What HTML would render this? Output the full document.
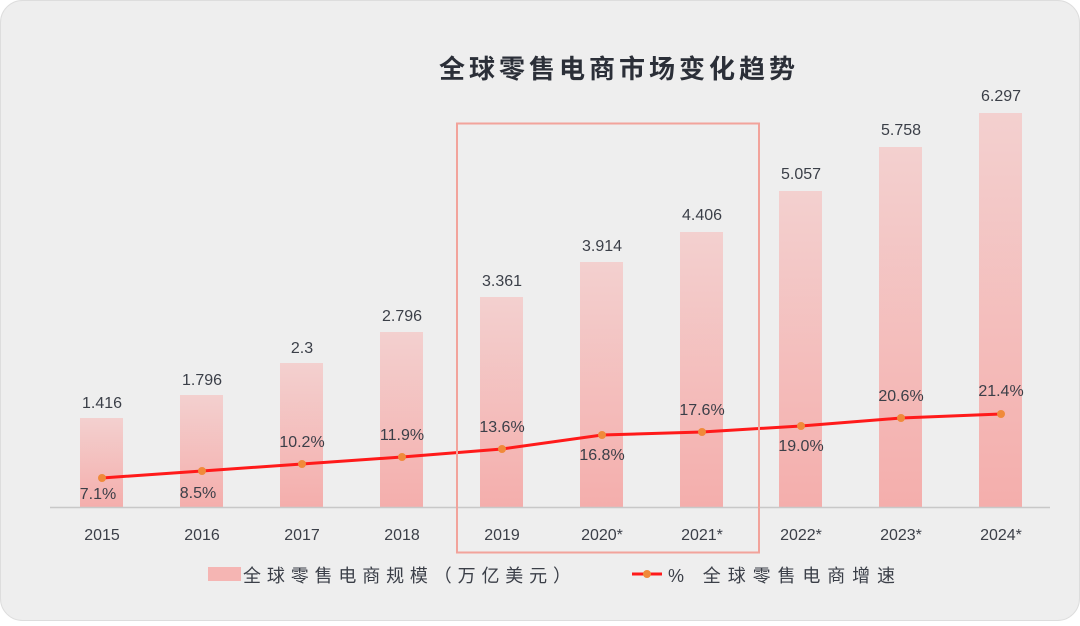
<!DOCTYPE html>
<html><head><meta charset="utf-8"><style>
body{margin:0;background:#fff;}
svg text{font-family:"Liberation Sans","Noto Sans CJK SC",sans-serif;}
</style></head><body>
<svg width="1080" height="621" xmlns="http://www.w3.org/2000/svg">
<defs>
<linearGradient id="g" x1="0" y1="0" x2="0" y2="1">
<stop offset="0" stop-color="#f3d0cf"/><stop offset="1" stop-color="#f4aeac"/>
</linearGradient>
</defs>
<rect x="0.5" y="0.5" width="1079" height="620" rx="22" fill="#eeeeee" stroke="#dddddd"/>
<text x="619" y="78" text-anchor="middle" font-size="26" font-weight="bold" fill="#2b2f38" letter-spacing="4" font-family="Noto Sans CJK SC,sans-serif">全球零售电商市场变化趋势</text>
<g fill="url(#g)">
<rect x="80" y="418" width="43" height="89"/>
<rect x="180" y="395" width="43" height="112"/>
<rect x="280" y="363" width="43" height="144"/>
<rect x="380" y="332" width="43" height="175"/>
<rect x="480" y="297" width="43" height="210"/>
<rect x="580" y="262" width="43" height="245"/>
<rect x="680" y="232" width="43" height="275"/>
<rect x="779" y="191" width="43" height="316"/>
<rect x="879" y="147" width="43" height="360"/>
<rect x="979" y="113" width="43" height="394"/>
</g>
<line x1="50" y1="507.5" x2="1050" y2="507.5" stroke="#c8c8c8" stroke-width="1.5"/>
<g font-size="16" fill="#3b3f48" text-anchor="middle">
<text x="102" y="408">1.416</text><text x="202" y="385">1.796</text><text x="302" y="353">2.3</text>
<text x="402" y="321">2.796</text><text x="502" y="286">3.361</text><text x="602" y="251">3.914</text>
<text x="702" y="220">4.406</text><text x="801" y="179">5.057</text><text x="901" y="135">5.758</text>
<text x="1001" y="101">6.297</text>
</g>
<polyline points="102,478 202,471 302,464 402,457 502,449 602,435 702,432 801,426 901,418 1001,414" fill="none" stroke="#ff1a1a" stroke-width="3"/>
<g fill="#f08a3a">
<circle cx="102" cy="478" r="4"/><circle cx="202" cy="471" r="4"/><circle cx="302" cy="464" r="4"/>
<circle cx="402" cy="457" r="4"/><circle cx="502" cy="449" r="4"/><circle cx="602" cy="435" r="4"/>
<circle cx="702" cy="432" r="4"/><circle cx="801" cy="426" r="4"/><circle cx="901" cy="418" r="4"/>
<circle cx="1001" cy="414" r="4"/>
</g>
<g font-size="16" fill="#3b3f48" text-anchor="middle">
<text x="98" y="499">7.1%</text><text x="198" y="498">8.5%</text><text x="302" y="447">10.2%</text>
<text x="402" y="440">11.9%</text><text x="502" y="432">13.6%</text><text x="602" y="460">16.8%</text>
<text x="702" y="415">17.6%</text><text x="801" y="451">19.0%</text><text x="901" y="401">20.6%</text>
<text x="1001" y="396">21.4%</text>
</g>
<g font-size="16" fill="#3b3f48" text-anchor="middle">
<text x="102" y="540">2015</text><text x="202" y="540">2016</text><text x="302" y="540">2017</text>
<text x="402" y="540">2018</text><text x="502" y="540">2019</text><text x="602" y="540">2020*</text>
<text x="702" y="540">2021*</text><text x="801" y="540">2022*</text><text x="901" y="540">2023*</text>
<text x="1001" y="540">2024*</text>
</g>
<rect x="457" y="123.5" width="302" height="429" fill="none" stroke="#f2a39b" stroke-width="2"/>
<rect x="208" y="567" width="33" height="14" fill="#f5b5b3"/>
<text x="243" y="582" font-size="18" fill="#3b3f48" letter-spacing="6" textLength="334" lengthAdjust="spacing">全球零售电商规模（万亿美元）</text>
<line x1="632" y1="574" x2="662" y2="574" stroke="#ff1a1a" stroke-width="3"/>
<circle cx="647" cy="574" r="4" fill="#f08a3a"/>
<text x="668" y="582" font-size="18" fill="#3b3f48" textLength="227" lengthAdjust="spacing">% 全球零售电商增速</text>
</svg>
</body></html>
